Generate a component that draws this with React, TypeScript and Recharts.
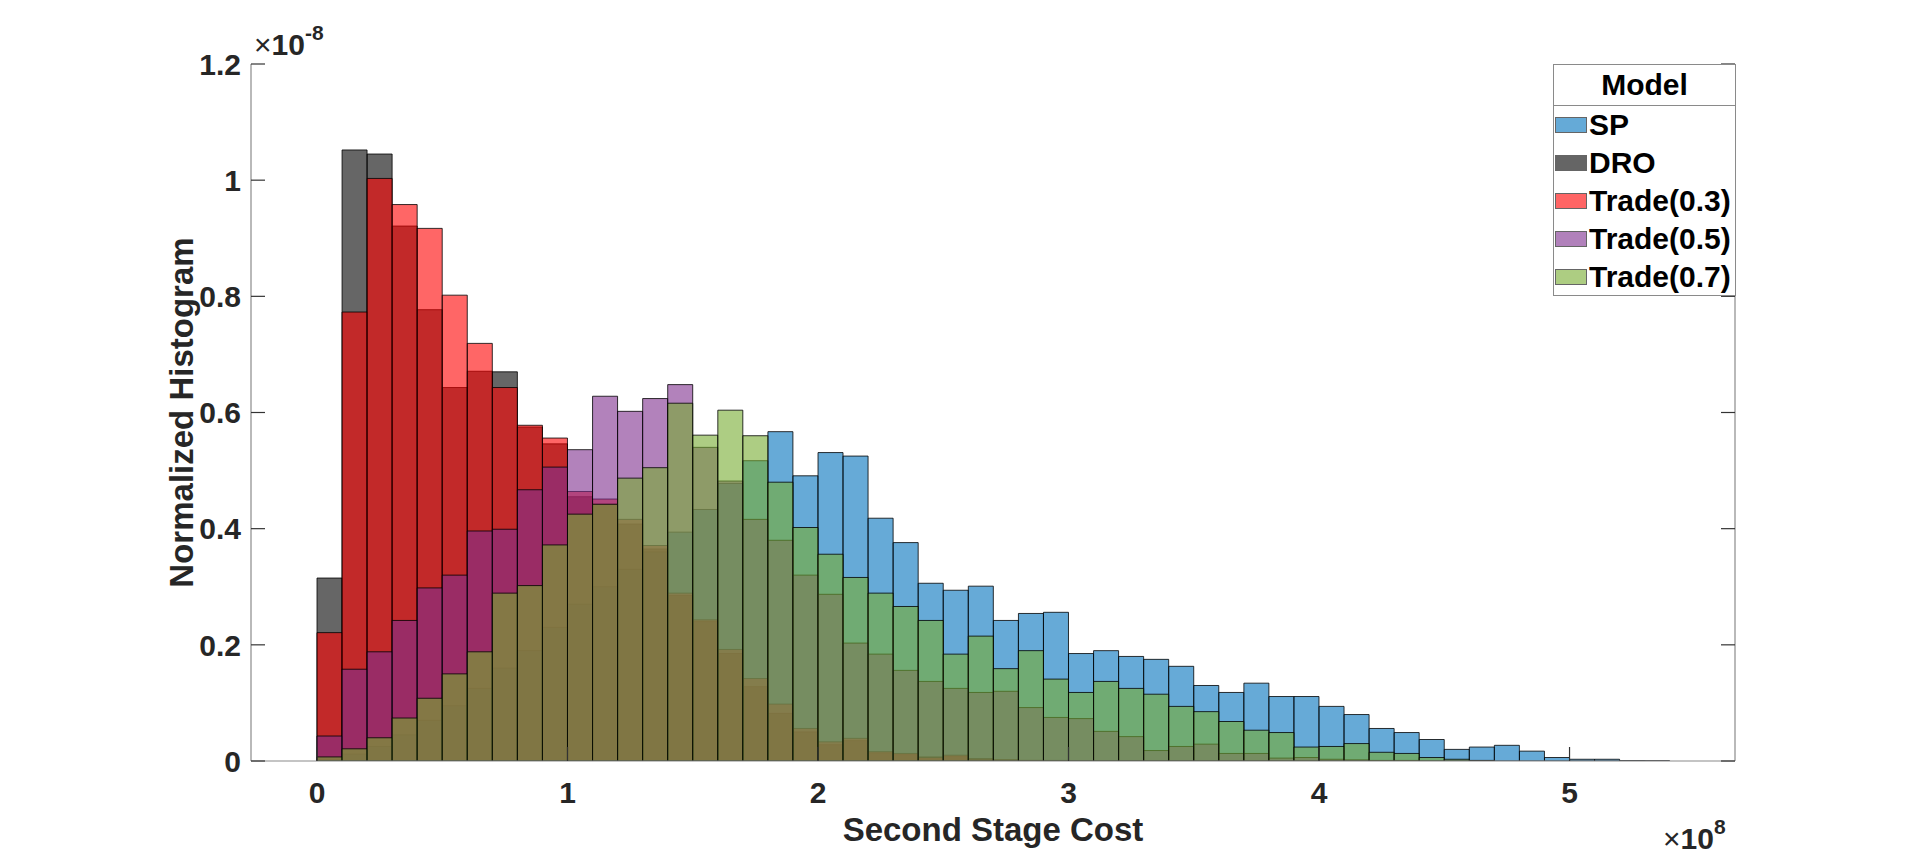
import { Bar, ComposedChart, XAxis, YAxis } from "recharts";

// histogram bins are 0.1 (x1e8) wide, starting at 0
const BIN_WIDTH = 0.1;

// normalized histogram heights (x1e-8), one value per bin
const sp = [
  0.003, 0.012, 0.025, 0.045, 0.07, 0.095, 0.125, 0.16, 0.19, 0.23,
  0.27, 0.3, 0.33, 0.36, 0.394, 0.433, 0.478, 0.517, 0.567, 0.491,
  0.531, 0.525, 0.418, 0.376, 0.306, 0.294, 0.301, 0.242, 0.254, 0.256,
  0.185, 0.19, 0.18, 0.175, 0.163, 0.13, 0.118, 0.134, 0.111, 0.111,
  0.094, 0.08, 0.056, 0.049, 0.037, 0.02, 0.024, 0.027, 0.017, 0.006,
  0.003, 0.003, 0.0005, 0.0003,
];
const dro = [
  0.315, 1.052, 1.045, 0.921, 0.777, 0.643, 0.671, 0.67, 0.575, 0.546,
  0.455, 0.442, 0.408, 0.365, 0.285, 0.24, 0.185, 0.128, 0.082, 0.05,
  0.028, 0.035, 0.014, 0.011, 0.007, 0.008, 0.004, 0.002, 0.001, 0.001,
  0, 0, 0, 0, 0, 0, 0, 0, 0, 0,
  0, 0, 0, 0, 0, 0, 0, 0, 0, 0,
  0, 0, 0, 0,
];
const trade03 = [
  0.221, 0.773, 1.003, 0.958, 0.917, 0.802, 0.719, 0.643, 0.578, 0.556,
  0.464, 0.451, 0.416, 0.371, 0.289, 0.243, 0.192, 0.142, 0.098, 0.056,
  0.033, 0.039, 0.016, 0.013, 0.006, 0.01, 0.003, 0.002, 0.001, 0,
  0, 0, 0, 0, 0, 0, 0, 0, 0, 0,
  0, 0, 0, 0, 0, 0, 0, 0, 0, 0,
  0, 0, 0, 0,
];
const trade05 = [
  0.043, 0.158, 0.188, 0.242, 0.298, 0.32, 0.396, 0.399, 0.467, 0.506,
  0.536, 0.628, 0.602, 0.624, 0.648, 0.54, 0.482, 0.416, 0.38, 0.32,
  0.287, 0.203, 0.184, 0.156, 0.137, 0.125, 0.118, 0.12, 0.092, 0.075,
  0.073, 0.051, 0.042, 0.018, 0.025, 0.029, 0.013, 0.013, 0.005, 0.006,
  0.003, 0.002, 0.001, 0.001, 0, 0, 0, 0, 0, 0,
  0, 0, 0, 0,
];
const trade07 = [
  0.007, 0.021, 0.04, 0.074, 0.108, 0.15, 0.188, 0.289, 0.302, 0.372,
  0.425, 0.442, 0.487, 0.505, 0.616, 0.561, 0.604, 0.56, 0.48, 0.402,
  0.356, 0.316, 0.289, 0.266, 0.242, 0.184, 0.215, 0.159, 0.19, 0.141,
  0.118, 0.137, 0.125, 0.115, 0.094, 0.085, 0.068, 0.053, 0.049, 0.024,
  0.025, 0.03, 0.015, 0.013, 0.006, 0.003, 0.001, 0, 0, 0,
  0, 0, 0, 0,
];

const xTicks = [0, 1, 2, 3, 4, 5];
const yTicks = [0, 0.2, 0.4, 0.6, 0.8, 1, 1.2];

const series = [
  { key: "sp", name: "SP", color: "#0072BD" },
  { key: "dro", name: "DRO", color: "#000000" },
  { key: "trade03", name: "Trade(0.3)", color: "#FF0000" },
  { key: "trade05", name: "Trade(0.5)", color: "#7E2F8E" },
  { key: "trade07", name: "Trade(0.7)", color: "#77AC30" },
];

const data = sp.map((v, i) => ({
  x: (i + 0.5) * BIN_WIDTH,
  sp: v,
  dro: dro[i],
  trade03: trade03[i],
  trade05: trade05[i],
  trade07: trade07[i],
}));

const W = 1920;
const H = 856;
const PLOT = { left: 251, right: 1735, top: 64, bottom: 761 };
const X_DOMAIN = [-0.2635, 5.6605];
const Y_DOMAIN = [0, 1.2];
const TICK_LEN = 14;
const FONT = "'Liberation Sans', Arial, Helvetica, sans-serif";
const TEXT = "#262626";
const BOX = "#8a8a8a";
const TICK = "#333333";
const FACE_ALPHA = 0.6;

const BottomTick = (props: any) => {
  const { x, payload } = props;
  return (
    <g>
      <line x1={x} x2={x} y1={PLOT.bottom} y2={PLOT.bottom - TICK_LEN} stroke={TICK} strokeWidth={1.2} />
      <text x={x} y={803} textAnchor="middle" fontFamily={FONT} fontWeight="bold" fontSize={30} fill={TEXT}>
        {payload.value}
      </text>
    </g>
  );
};

const TopTick = (props: any) => {
  const { x } = props;
  return <line x1={x} x2={x} y1={PLOT.top} y2={PLOT.top + TICK_LEN} stroke={TICK} strokeWidth={1.2} />;
};

const LeftTick = (props: any) => {
  const { y, payload } = props;
  return (
    <g>
      <line x1={PLOT.left} x2={PLOT.left + TICK_LEN} y1={y} y2={y} stroke={TICK} strokeWidth={1.2} />
      <text x={241} y={y} dy="0.36em" textAnchor="end" fontFamily={FONT} fontWeight="bold" fontSize={30} fill={TEXT}>
        {String(payload.value)}
      </text>
    </g>
  );
};

const RightTick = (props: any) => {
  const { y } = props;
  return <line x1={PLOT.right} x2={PLOT.right - TICK_LEN} y1={y} y2={y} stroke={TICK} strokeWidth={1.2} />;
};

const XLabel = () => (
  <g fontFamily={FONT} fontWeight="bold" fill={TEXT}>
    <text x={(PLOT.left + PLOT.right) / 2} y={841} textAnchor="middle" fontSize={33}>
      Second Stage Cost
    </text>
    <text x={1663} y={849} fontSize={30} fontWeight="normal">
      ×<tspan fontWeight="bold">10</tspan>
      <tspan fontSize={21} fontWeight="bold" dy={-15}>8</tspan>
    </text>
  </g>
);

const YLabel = () => (
  <g fontFamily={FONT} fontWeight="bold" fill={TEXT}>
    <text
      x={181}
      y={(PLOT.top + PLOT.bottom) / 2}
      textAnchor="middle"
      dy="0.36em"
      fontSize={33}
      transform={`rotate(-90 181 ${(PLOT.top + PLOT.bottom) / 2})`}
    >
      Normalized Histogram
    </text>
    <text x={254} y={55} fontSize={30} fontWeight="normal">
      ×<tspan fontWeight="bold">10</tspan>
      <tspan fontSize={21} fontWeight="bold" dy={-15}>-8</tspan>
    </text>
  </g>
);

const LegendBox = () => (
  <div
    style={{
      position: "absolute",
      left: 1553,
      top: PLOT.top,
      width: PLOT.right - 1553 + 1,
      height: 232,
      boxSizing: "border-box",
      border: `1px solid ${BOX}`,
      background: "#fff",
      fontFamily: FONT,
      fontWeight: "bold",
      color: "#000",
    }}
  >
    <div
      style={{
        height: 40,
        lineHeight: "40px",
        textAlign: "center",
        fontSize: 30,
        borderBottom: `1px solid ${BOX}`,
      }}
    >
      Model
    </div>
    {series.map((s) => (
      <div key={s.key} style={{ height: 38, display: "flex", alignItems: "center", fontSize: 30 }}>
        <span
          style={{
            display: "inline-block",
            width: 30,
            height: 14,
            marginLeft: 2,
            marginRight: 3,
            background: s.color,
            opacity: FACE_ALPHA,
            outline: "1px solid #000",
          }}
        />
        <span>{s.name}</span>
      </div>
    ))}
  </div>
);

export default function App() {
  return (
    <div style={{ position: "absolute", left: 0, top: 0, width: W, height: H, background: "#fff" }}>
      <ComposedChart
        width={W}
        height={H}
        data={data}
        barCategoryGap={0}
        barGap={0}
        margin={{ top: PLOT.top, right: W - PLOT.right - 1, bottom: 0, left: 0 }}
      >
        {series.map((s, i) => (
          <XAxis
            key={s.key}
            xAxisId={s.key}
            dataKey="x"
            type="number"
            domain={X_DOMAIN}
            allowDataOverflow
            ticks={xTicks}
            interval={0}
            hide={i !== 0}
            height={i === 0 ? H - PLOT.bottom : 0}
            axisLine={{ stroke: BOX, strokeWidth: 1.2 }}
            tickLine={false}
            tick={<BottomTick />}
            label={i === 0 ? <XLabel /> : undefined}
          />
        ))}
        <XAxis
          xAxisId="top"
          orientation="top"
          dataKey="x"
          type="number"
          domain={X_DOMAIN}
          allowDataOverflow
          ticks={xTicks}
          interval={0}
          height={0}
          axisLine={{ stroke: BOX, strokeWidth: 1.2 }}
          tickLine={false}
          tick={<TopTick />}
        />
        <YAxis
          yAxisId="left"
          type="number"
          domain={Y_DOMAIN}
          allowDataOverflow
          ticks={yTicks}
          interval={0}
          width={PLOT.left}
          axisLine={{ stroke: BOX, strokeWidth: 1.2 }}
          tickLine={false}
          tick={<LeftTick />}
          label={<YLabel />}
        />
        <YAxis
          yAxisId="right"
          orientation="right"
          type="number"
          domain={Y_DOMAIN}
          allowDataOverflow
          ticks={yTicks}
          interval={0}
          width={1}
          axisLine={{ stroke: BOX, strokeWidth: 1.2 }}
          tickLine={false}
          tick={<RightTick />}
        />
        {series.map((s) => (
          <Bar
            key={s.key}
            dataKey={s.key}
            name={s.name}
            xAxisId={s.key}
            yAxisId="left"
            fill={s.color}
            fillOpacity={FACE_ALPHA}
            stroke="#000"
            strokeWidth={0.8}
            isAnimationActive={false}
          />
        ))}
        {/* invisible series so the right-hand axis gets drawn */}
        <Bar
          dataKey="sp"
          xAxisId="top"
          yAxisId="right"
          fill="none"
          stroke="none"
          legendType="none"
          isAnimationActive={false}
        />
      </ComposedChart>
      <LegendBox />
    </div>
  );
}
